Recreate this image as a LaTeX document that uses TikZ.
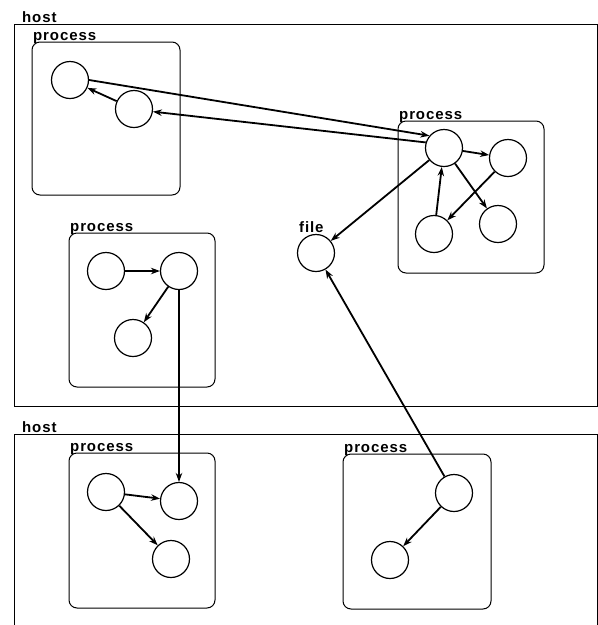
\documentclass[tikz,border=0pt]{standalone}
\usepackage{fontspec}
\setmainfont{Liberation Sans}
\newfontfamily\labfont[LetterSpace=6]{Liberation Sans}
\usetikzlibrary{arrows.meta}
\begin{document}
\begin{tikzpicture}[x=1pt,y=-1pt,
  hostbox/.style={line width=1pt},
  procbox/.style={draw,line width=1pt,rounded corners=8pt},
  obj/.style={draw,circle,line width=1.2pt,minimum size=37pt,inner sep=0pt},
  lab/.style={anchor=base west,inner sep=0pt,font=\labfont\bfseries\fontsize{15}{15}\selectfont},
  arr/.style={line width=1.8pt,-{Stealth[length=9pt,width=6.5pt]}}]
\useasboundingbox (0,0) rectangle (598,625);
% hosts
\draw[hostbox] (14,406) -- (14,24) -- (597,24) -- (597,406) -- cycle;
\node[lab] (h1) at (22,22) {host};
\draw[hostbox] (14,625) -- (14,434) -- (597,434) -- (597,625);
\node[lab] (h2) at (22,432) {host};
% processes
\draw[procbox] (32,42) rectangle (180,195);
\node[lab] (p1) at (33,40) {process};
\draw[procbox] (398,121) rectangle (544,273);
\node[lab] (p2) at (399,119) {process};
\draw[procbox] (69,233) rectangle (215,387);
\node[lab] (p3) at (70,231) {process};
\draw[procbox] (69,453) rectangle (215,608);
\node[lab] (p4) at (70,451) {process};
\draw[procbox] (343,454) rectangle (491,609);
\node[lab] (p5) at (344,452) {process};
% objects
\node[obj] (A) at (70,80) {};
\node[obj] (B) at (134,109) {};
\node[obj] (C) at (444,148) {};
\node[obj] (D) at (508,158) {};
\node[obj] (E) at (434,234) {};
\node[obj] (F) at (498,224) {};
\node[obj] (file) at (316,253) {};
\node[lab] (fl) at (299,232) {file};
\node[obj] (G) at (106,271) {};
\node[obj] (H) at (179,271) {};
\node[obj] (I) at (133,338) {};
\node[obj] (J) at (106,492) {};
\node[obj] (K) at (179,501) {};
\node[obj] (L) at (171,559) {};
\node[obj] (M) at (454,493) {};
\node[obj] (N) at (390,560) {};
% connectors
\draw[arr] (A.east) -- (C.140);
\draw[arr] (C.163) -- (B.-8);
\draw[arr] (B) -- (A);
\draw[arr] (C) -- (D);
\draw[arr] (C) -- (F);
\draw[arr] (D) -- (E);
\draw[arr] (E) -- (C);
\draw[arr] (C) -- (file);
\draw[arr] (M) -- (file);
\draw[arr] (M) -- (N);
\draw[arr] (G) -- (H);
\draw[arr] (H) -- (I);
\draw[arr] (H) -- (K);
\draw[arr] (J) -- (K);
\draw[arr] (J) -- (L);
\end{tikzpicture}
\end{document}
